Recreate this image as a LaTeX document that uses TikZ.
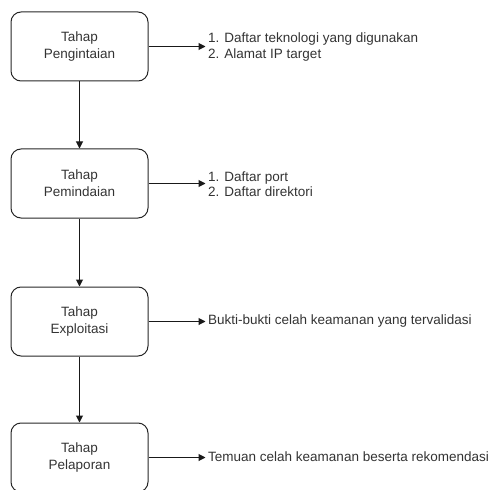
\documentclass[tikz,border=0pt]{standalone}
\usepackage{fontspec}
\setmainfont{Liberation Sans}
\usetikzlibrary{arrows.meta}
\definecolor{txt}{HTML}{333333}
\begin{document}
\begin{tikzpicture}[x=1pt,y=-1pt,
  stage/.style={draw=black!85,line width=1pt,rounded corners=10pt,minimum width=137pt,minimum height=69pt,align=center,font=\fontsize{13.5}{17}\selectfont,text=txt,inner sep=0pt},
  outtext/.style={anchor=west,align=left,font=\fontsize{13.5}{15.5}\selectfont,text=txt,inner sep=0pt},
  conn/.style={draw=black!90,line width=1pt,-{Triangle[length=7pt,width=7pt]}},
  sideconn/.style={conn,shorten >=2.5pt}]
\useasboundingbox (0,0) rectangle (497,489);
\clip (0,0) rectangle (497,489);
\node[stage] (s1) at (79.5,46.5) {Tahap\\Pengintaian};
\node[stage] (s2) at (79.5,183.5) {Tahap\\Pemindaian};
\node[stage] (s3) at (79.5,321.5) {Tahap\\Exploitasi};
\node[stage] (s4) at (79.5,457.5) {Tahap\\Pelaporan};
\node[outtext] (o1) at (208,47) {1. Daftar teknologi yang digunakan\\2. Alamat IP target};
\node[outtext] (o2) at (208,184) {1. Daftar port\\2. Daftar direktori};
\node[outtext] (o3) at (208,321) {Bukti-bukti celah keamanan yang tervalidasi};
\node[outtext] (o4) at (208,457) {Temuan celah keamanan beserta rekomendasi};
\draw[conn] (s1) -- (s2);
\draw[conn] (s2) -- (s3);
\draw[conn] (s3) -- (s4);
\draw[sideconn] (s1.east) -- (s1.east -| o1.west);
\draw[sideconn] (s2.east) -- (s2.east -| o2.west);
\draw[sideconn] (s3.east) -- (s3.east -| o3.west);
\draw[sideconn] (s4.east) -- (s4.east -| o4.west);
\end{tikzpicture}
\end{document}
